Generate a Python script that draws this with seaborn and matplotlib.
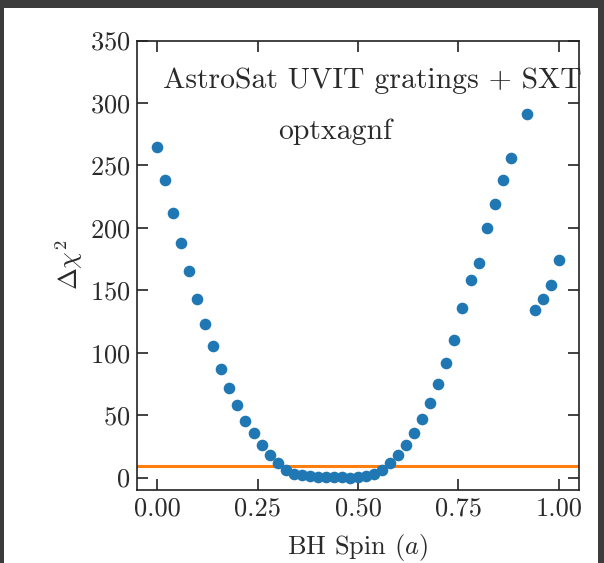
import numpy as np
import pandas as pd
import matplotlib
matplotlib.use("Agg")
import matplotlib.pyplot as plt
from matplotlib.patches import Rectangle
import seaborn as sns

# ---- data ----
spin = [0.00, 0.02, 0.04, 0.06, 0.08, 0.10, 0.12, 0.14, 0.16, 0.18,
        0.20, 0.22, 0.24, 0.26, 0.28, 0.30, 0.32, 0.34, 0.36, 0.38,
        0.40, 0.42, 0.44, 0.46, 0.48, 0.50, 0.52, 0.54, 0.56, 0.58,
        0.60, 0.62, 0.64, 0.66, 0.68, 0.70, 0.72, 0.74, 0.76, 0.78,
        0.80, 0.82, 0.84, 0.86, 0.88, 0.92, 0.94, 0.96, 0.98, 1.00]
dchi2 = [265, 238, 212, 188, 165, 143, 123, 105, 87, 72,
         58, 45, 36, 26, 18, 12, 6, 3, 2, 1.3,
         0.8, 0.4, 0.2, 0.05, 0.0, 0.3, 1.2, 3, 6, 12,
         18, 26, 36, 47, 60, 75, 92, 110, 136, 158,
         172, 200, 219, 238, 256, 291, 134, 143, 154, 174]
threshold = 9
xticks = [0.00, 0.25, 0.50, 0.75, 1.00]
yticks = [0, 50, 100, 150, 200, 250, 300, 350]
title_line1 = "AstroSat UVIT gratings + SXT"
title_line2 = "optxagnf"

df = pd.DataFrame({"spin": spin, "dchi2": dchi2})

sns.set_theme(style="ticks")
plt.rcParams.update({
    "font.family": "serif",
    "font.serif": ["cmr10", "DejaVu Serif"],
    "mathtext.fontset": "cm",
    "axes.formatter.use_mathtext": True,
    "axes.unicode_minus": False,
})

fig = plt.figure(figsize=(6.04, 5.63), dpi=100)
fig.patch.set_facecolor("#3c3c3c")
fig.add_artist(Rectangle((4 / 604, 0), (598 - 4) / 604, 1 - 8 / 563,
                         transform=fig.transFigure, facecolor="white",
                         edgecolor="none", zorder=-10))
ax = fig.add_axes([137 / 604, 1 - 490 / 563, (579 - 137) / 604, (490 - 40.5) / 563])
ax.set_facecolor("white")

sns.scatterplot(data=df, x="spin", y="dchi2", ax=ax, color="#1f77b4",
                s=70, linewidth=0, zorder=3)
ax.axhline(threshold, color="#ff7f0e", lw=2.2, zorder=2)

ax.set_xlim(-0.05, 1.05)
ax.set_ylim(-10, 350)
ax.set_xticks(xticks)
ax.set_yticks(yticks)
ax.set_xticklabels([f"{t:.2f}" for t in xticks])
ax.tick_params(direction="in", top=True, right=True, length=8, width=1.2,
               labelsize=19, pad=5, colors="#222222", labelcolor="#2a2a2a")
for sp in ax.spines.values():
    sp.set_linewidth(1.2)
    sp.set_color("#222222")

ax.set_xlabel(r"BH Spin ($a$)", fontsize=19, labelpad=8, color="#2a2a2a")
ax.set_ylabel(r"$\Delta\chi^2$", fontsize=19, labelpad=3, color="#2a2a2a")

ax.text(0.015, 318, title_line1, fontsize=21.4, ha="left", va="center", color="#2a2a2a")
ax.text(0.30, 277, title_line2, fontsize=21.4, ha="left", va="center", color="#2a2a2a")

fig.savefig("out.png", dpi=100, facecolor=fig.get_facecolor())
